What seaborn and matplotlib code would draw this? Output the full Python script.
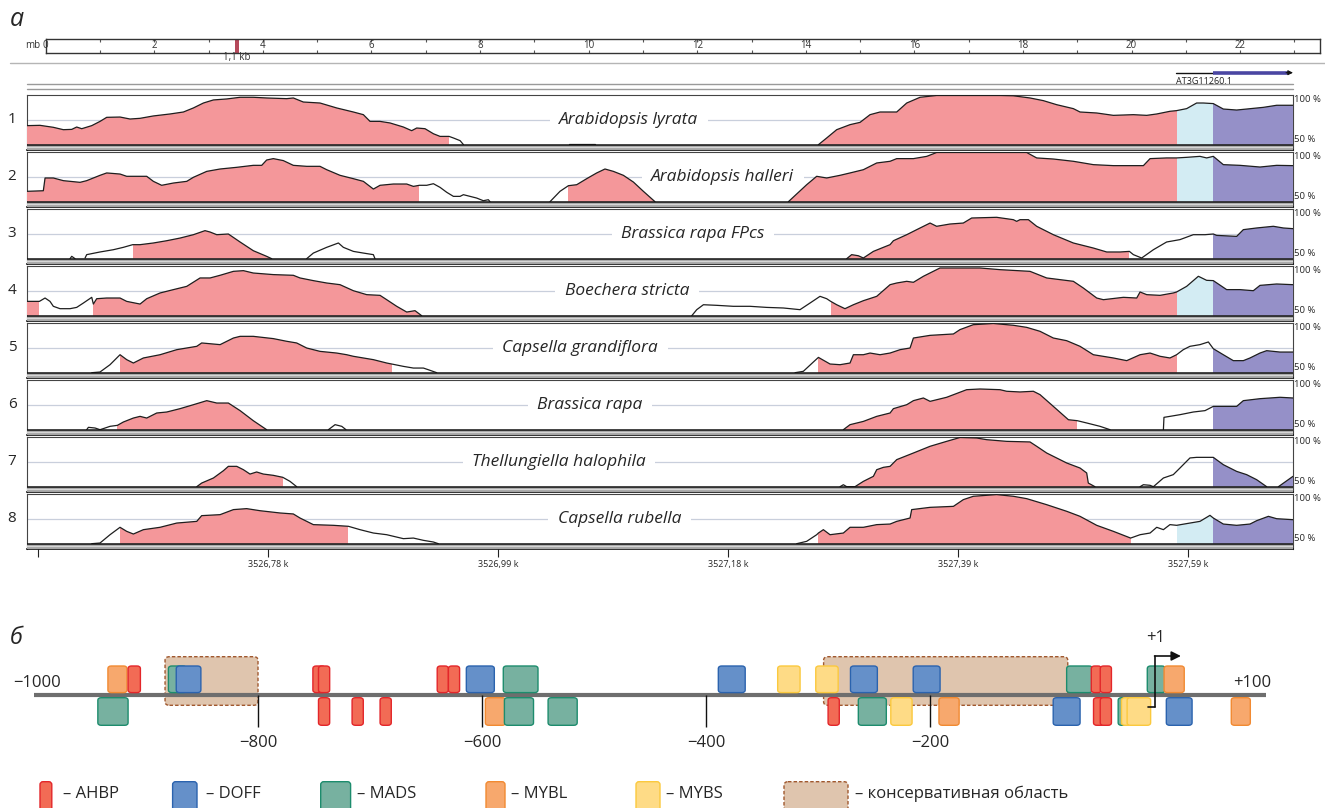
import numpy as np
import pandas as pd
import seaborn as sns
import matplotlib.pyplot as plt
from matplotlib.patches import Rectangle, FancyBboxPatch

nan = np.nan

# ---------------- panel a: conservation profiles (x = bp offset, y = % identity) ----------------
species = ["Arabidopsis lyrata", "Arabidopsis halleri", "Brassica rapa FPcs", "Boechera stricta",
           "Capsella grandiflora", "Brassica rapa", "Thellungiella halophila", "Capsella rubella"]

t1_x = [-9.6, 1.7, 13.3, 22.0, 29.3, 33.6, 38.0, 46.7, 53.9, 59.7, 71.3, 80.0, 88.7, 100.3, 114.8, 126.4,
        135.1, 143.8, 152.5, 164.1, 175.7, 187.2, 198.8, 216.2, 222.0, 230.7, 245.2, 259.7, 274.2, 282.9,
        288.7, 297.4, 306.1, 317.7, 324.9, 329.3, 336.5, 343.8, 349.6, 357.4, 361.2, 367.0, 370.0, nan,
        462.0, 484.0, nan, 678.6, 685.8, 694.5, 706.1, 714.8, 723.5, 732.2, 746.7, 755.4, 767.0, 781.4,
        836.5, 848.1, 862.6, 874.2, 885.8, 900.3, 906.1, 920.6, 935.1, 952.5, 964.1, 972.8, 984.3, 990.1,
        998.8, 1007.5, 1013.3, 1022.0, 1030.7, 1042.3, 1051.0, 1065.5, 1077.1, 1091.3]
t1_y = [69.3, 69.6, 67.6, 65.2, 65.5, 67.9, 66.2, 69.3, 73.6, 77.7, 78.0, 76.0, 76.7, 79.1, 81.1, 83.1,
        87.2, 92.2, 95.3, 96.3, 98.0, 98.0, 97.3, 96.6, 97.3, 93.2, 92.2, 87.2, 83.1, 80.4,
        73.6, 73.6, 72.0, 67.9, 64.2, 66.9, 66.2, 61.1, 58.4, 58.4, 56.8, 54.1, 50, nan,
        50.6, 50.6, nan, 50, 56.8, 65.2, 70.3, 72.6, 80.4, 83.1, 83.1, 92.2, 98.0, 99.8,
        99.8, 99.5, 97.3, 94.6, 90.5, 86.5, 83.1, 82.1, 79.7, 80.4, 79.7, 81.1, 83.8, 84.5,
        86.5, 92.2, 92.2, 91.6, 86.1, 85.1, 86.1, 87.8, 89.9, 89.9]

t2_x = [-9.6, 4.6, 6.1, 13.3, 22.0, 36.5, 42.3, 53.9, 59.7, 71.3, 77.1, 94.5, 100.3, 107.5, 117.7, 129.3,
        135.1, 146.7, 158.3, 172.8, 187.2, 194.5, 198.8, 204.6, 213.3, 222.0, 233.6, 245.2, 251.0, 262.6,
        274.2, 282.9, 291.6, 297.4, 309.0, 320.6, 326.4, 331.6, 338.0, 343.8, 349.6, 355.4, 361.2, 367.0,
        369.9, 381.4, 387.2, 391.6, 393.0, nan, 445.2, 453.9, 461.2, 468.4, 477.1, 485.8, 493.0, 500.3,
        509.0, 517.7, 526.4, 536.5, nan, 652.5, 659.7, 668.4, 677.1, 685.8, 697.4, 706.1, 717.7, 729.3,
        740.9, 746.7, 761.2, 772.8, 781.4, 859.7, 868.4, 882.9, 900.3, 917.7, 935.1, 961.2, 967.0, 981.4,
        990.1, 998.8, 1010.4, 1016.2, 1022.0, 1030.7, 1045.2, 1062.6, 1077.1, 1091.3]
t2_y = [60.5, 61.1, 74.0, 74.0, 71.3, 69.6, 71.3, 76.7, 79.1, 78.0, 75.7, 75.7, 70.6, 66.6, 68.9, 70.6,
        74.7, 80.7, 83.1, 84.8, 86.8, 86.8, 92.2, 93.6, 91.6, 86.8, 85.8, 85.8, 82.4, 76.7,
        73.3, 70.6, 62.8, 66.6, 67.9, 67.9, 65.5, 66.6, 66.6, 68.2, 64.5, 59.5, 55.4, 55.4,
        57.1, 53.7, 51.0, 52.0, 50, nan, 50, 60.5, 66.2, 67.2, 73.3, 79.1, 83.1, 80.7,
        76.7, 69.9, 60.5, 50, nan, 50, 57.8, 67.2, 75.7, 74.0, 76.7, 79.1, 82.4, 89.2,
        90.9, 93.6, 93.6, 95.9, 99.8, 99.8, 94.3, 93.2, 90.9, 87.5, 86.5, 86.5, 93.6, 94.3,
        94.3, 94.9, 95.9, 94.3, 95.9, 87.5, 86.8, 85.1, 86.8, 86.5]

t3_x = [27.8, 29.3, 32.2, nan, 40.9, 42.3, 53.9, 65.5, 74.2, 82.3, 88.7, 100.3, 111.9, 123.5, 135.1, 145.2,
        149.6, 155.4, 165.5, 175.7, 187.2, 198.8, 203.2, nan, 233.6, 239.4, 251.0, 261.2, 265.5, 274.2,
        282.9, 291.6, 293.0, nan, 703.2, 707.5, 713.3, 717.7, 726.4, 735.1, 740.9, 743.8, 755.4, 764.1,
        775.7, 781.4, 793.0, 804.6, 811.9, 833.6, 848.1, 851.0, 853.9, 861.2, 868.4, 882.9, 900.3, 917.7,
        929.3, 940.9, 949.0, 952.5, 959.7, 969.9, 981.4, 993.0, 1004.6, 1014.8, 1022.0, 1024.9, 1042.3,
        1048.1, 1059.7, 1074.2, 1082.9, 1091.3]
t3_y = [50, 52.4, 50, nan, 50.7, 54.1, 56.8, 59.1, 61.5, 64.2, 64.2, 65.9, 68.2, 70.9, 74.3, 78.4,
        77.0, 74.3, 75.0, 66.9, 58.1, 52.4, 50, nan, 50, 55.7, 61.5, 65.9, 61.5, 57.4,
        55.7, 54.1, 50, nan, 50, 54.1, 53.0, 50.7, 57.4, 61.5, 64.2, 68.2, 74.3, 79.4,
        86.1, 82.8, 85.1, 86.1, 91.2, 91.9, 89.5, 87.8, 89.5, 89.5, 82.8, 74.3, 65.9, 60.8,
        56.8, 56.8, 57.4, 54.1, 50.7, 59.1, 66.9, 69.3, 74.3, 74.3, 75.0, 73.6, 72.6,
        79.4, 81.1, 82.8, 81.1, 80.4]

t4_x = [-9.6, 1.2, 6.1, 10.4, 13.3, 19.1, 27.8, 33.6, 39.4, 46.7, 48.1, 51.0, 59.7, 71.3, 77.1, 88.7,
        94.5, 106.1, 117.7, 129.3, 140.9, 149.6, 158.3, 169.9, 178.6, 187.2, 204.6, 222.0, 227.8, 239.4,
        251.0, 262.6, 274.2, 285.8, 297.4, 303.2, 311.9, 320.6, 327.8, 333.6, nan, 568.5, 572.8, 578.6,
        590.1, 604.6, 619.1, 633.6, 648.1, 662.6, 671.3, 680.0, 685.8, 689.3, 694.5, 701.7, 709.0, 717.7,
        729.3, 740.9, 746.7, 755.4, 761.2, 769.9, 781.4, 784.3, 819.1, 836.5, 862.6, 877.1, 900.3, 909.0,
        920.6, 926.4, 943.8, 955.4, 958.3, 964.1, 975.7, 987.2, 990.1, 998.8, 1009.0, 1016.2, 1022.0,
        1033.6, 1045.2, 1056.8, 1062.6, 1077.1, 1091.3]
t4_y = [64.5, 64.5, 67.9, 64.5, 59.5, 57.1, 57.1, 58.4, 62.8, 68.6, 61.8, 67.2, 67.9, 67.9, 64.5, 61.8,
        67.2, 73.0, 76.4, 79.7, 88.2, 88.2, 90.9, 94.9, 95.6, 93.2, 91.6, 90.9, 88.2, 85.5,
        83.1, 81.4, 75.3, 71.3, 70.6, 66.2, 59.5, 53.7, 55.1, 50, nan, 50, 56.1, 61.1,
        60.5, 59.5, 59.5, 58.4, 57.8, 56.1, 62.8, 69.6, 67.2, 64.5, 61.1, 57.1, 61.1, 65.2,
        69.6, 81.4, 83.1, 84.8, 83.8, 89.9, 96.6, 98.3, 98.3, 96.6, 94.9, 88.2, 84.8, 78.0,
        67.9, 66.2, 68.6, 67.9, 74.0, 71.3, 70.6, 73.0, 74.0, 79.7, 89.9, 85.8, 85.5,
        76.4, 76.4, 75.3, 80.7, 82.1, 81.4]

t5_x = [46.7, 53.9, 62.6, 71.3, 77.1, 82.9, 91.6, 106.1, 120.6, 138.0, 142.3, 158.3, 169.9, 175.7, 187.2,
        204.6, 216.2, 224.9, 233.6, 245.2, 259.7, 268.4, 274.2, 291.6, 303.2, 307.5, 317.7, 326.4, 335.1,
        339.4, 346.7, nan, 658.3, 665.5, 674.2, 678.6, 688.7, 697.4, 706.1, 709.0, 717.7, 723.5, 732.2,
        740.9, 749.6, 758.3, 761.2, 775.7, 796.0, 801.7, 813.3, 830.7, 848.1, 859.7, 871.3, 882.9, 894.5,
        906.1, 917.7, 935.1, 946.7, 958.3, 967.0, 975.7, 984.3, 990.1, 995.9, 1001.7, 1010.4, 1017.7,
        1022.0, 1030.7, 1039.4, 1048.1, 1053.9, 1062.6, 1068.4, 1080.0, 1091.3]
t5_y = [50, 50.7, 58.1, 68.2, 63.2, 59.8, 64.9, 68.2, 73.3, 76.7, 80.1, 78.4, 85.1, 86.8, 86.8,
        84.5, 81.8, 80.1, 75.0, 71.6, 69.9, 68.2, 66.6, 63.2, 59.8, 58.8, 56.4, 54.7, 54.7,
        53.0, 50, nan, 50, 51.4, 60.8, 65.5, 58.8, 58.1, 59.8, 68.2, 68.2, 69.9, 68.2,
        69.9, 73.3, 75.0, 85.1, 87.8, 89.2, 93.6, 98.6, 99.8, 98.0, 95.9, 91.9, 85.1, 82.4,
        76.7, 68.2, 64.9, 62.2, 68.2, 69.9, 66.6, 64.9, 68.2, 73.3, 76.7, 78.4, 81.1,
        74.3, 68.2, 62.2, 62.2, 64.9, 69.9, 72.3, 70.9, 70.9]

t6_x = [42.3, 43.8, 49.6, 53.9, 58.3, 62.6, 69.0, 74.2, 82.9, 88.7, 94.5, 103.2, 111.9, 123.5, 135.1, 146.7,
        155.4, 165.5, 175.7, 187.2, 198.8, nan, 252.5, 258.3, 264.1, 267.8, nan, 700.3, 706.1, 717.7,
        729.3, 740.9, 743.8, 755.4, 761.2, 769.9, 775.7, 790.1, 807.5, 819.1, 836.5, 842.3, 853.9, 865.5,
        871.3, 882.9, 896.0, 903.8, 911.9, 923.5, 932.2, nan, 978.6, 979.1, 984.3, 993.0, 1004.6, 1014.8,
        1022.0, 1042.3, 1048.1, 1062.6, 1080.0, 1091.3]
t6_y = [50, 52.4, 51.7, 50, 51.7, 53.4, 54.4, 57.8, 61.8, 63.5, 61.8, 66.9, 67.9, 71.3, 75.3, 79.4,
        77.0, 77.0, 69.3, 59.1, 50, nan, 50, 55.1, 53.4, 50, nan, 50, 55.1, 58.4,
        63.5, 66.9, 71.3, 75.3, 79.4, 82.1, 78.7, 82.8, 90.5, 91.2, 90.5, 88.9, 88.2, 88.9,
        85.5, 73.6, 60.1, 59.1, 56.8, 53.4, 50, nan, 50, 62.5, 63.5, 65.2, 67.9, 69.3,
        73.6, 73.6, 79.4, 81.4, 82.8, 82.1]

t7_x = [138.0, 142.3, 152.5, 161.2, 165.5, 172.8, 178.6, 184.3, 190.1, 195.9, 204.6, 212.8, 219.1, 224.9,
        nan, 697.4, 700.3, 703.2, 710.4, 717.7, 726.4, 729.3, 735.1, 740.9, 746.7, 761.2, 775.7, 790.1,
        801.7, 816.2, 824.9, 842.3, 862.6, 868.4, 877.1, 894.5, 906.1, 911.9, 913.3, 919.1, nan, 958.3,
        961.2, 967.0, 969.9, 978.6, 987.2, 993.0, 1001.7, 1007.5, 1022.0, 1030.7, 1042.3, 1051.0, 1059.7,
        1068.4, nan, 1078.6, 1091.3]
t7_y = [50, 53.7, 58.8, 66.2, 70.6, 70.6, 67.2, 62.8, 64.9, 62.8, 61.5, 59.5, 55.4, 50,
        nan, 50, 52.0, 50, 50, 55.4, 60.5, 67.2, 69.6, 70.6, 77.4, 84.1, 90.9, 95.9,
        99.8, 99.3, 97.6, 95.9, 95.3, 90.9, 84.1, 74.0, 68.9, 63.9, 53.7, 50, nan, 50,
        52.0, 51.4, 50, 58.8, 62.2, 68.9, 79.1, 79.7, 79.7, 72.3, 65.5, 62.2, 57.1,
        50, nan, 50, 60.5]

t8_x = [46.7, 53.9, 62.6, 71.3, 77.1, 82.9, 91.6, 106.1, 120.6, 138.0, 142.3, 158.3, 169.9, 181.4, 193.0,
        210.4, 222.0, 227.8, 239.4, 256.8, 269.9, 280.0, 291.6, 303.2, 317.7, 326.4, 335.1, 343.8, 348.1,
        nan, 659.7, 668.4, 677.1, 678.6, 682.9, 688.7, 700.3, 706.1, 717.7, 729.3, 740.9, 746.7, 758.3,
        759.7, 775.7, 796.0, 804.6, 813.3, 833.6, 848.1, 859.7, 877.1, 894.5, 906.1, 920.6, 935.1, 950.1,
        958.3, 967.0, 972.8, 978.6, 984.3, 990.1, 1001.7, 1010.4, 1019.1, 1022.0, 1030.7, 1042.3, 1053.9,
        1059.7, 1069.9, 1077.1, 1091.3]
t8_y = [50, 50.7, 59.1, 66.6, 62.5, 59.8, 64.2, 66.6, 70.9, 72.6, 78.4, 79.4, 84.5, 85.5, 83.4,
        81.1, 80.1, 76.0, 69.3, 68.6, 67.6, 64.2, 60.8, 59.1, 55.1, 55.7, 53.4, 51.7, 50,
        nan, 50, 52.4, 59.1, 60.8, 64.2, 59.1, 60.8, 66.6, 66.6, 69.3, 69.9, 72.6, 76.0,
        84.5, 86.8, 87.8, 94.6, 98.0, 99.7, 98.0, 95.6, 89.5, 82.8, 77.7, 68.6, 62.5, 55.7,
        59.1, 60.8, 66.6, 64.2, 69.3, 68.6, 70.9, 72.6, 78.7, 76.0, 69.9, 68.6, 69.9,
        73.3, 77.7, 75.3, 74.3]

# conserved non-coding stretches (pink) per track
cns_regions = [
    [(-9.6, 357.4), (678.6, 990.1)],
    [(-9.6, 331.6), (461.2, 536.5), (652.5, 990.1)],
    [(82.3, 203.2), (703.2, 949.0)],
    [(-9.6, 1.2), (48.1, 333.6), (689.3, 990.1)],
    [(71.3, 307.5), (678.6, 990.1)],
    [(69.0, 198.8), (700.3, 903.8)],
    [(138.0, 212.8), (710.4, 919.1)],
    [(71.3, 269.9), (678.6, 950.1)],
]
utr_tracks = [1, 2, 4, 8]
utr_span = (990.1, 1022.0)
exon_span = (1022.0, 1091.3)
gene_name = "AT3G11260.1"

pos_ticks = [0, 200, 400, 600, 800, 1000]
pos_labels = ["", "3526,78 k", "3526,99 k", "3527,18 k", "3527,39 k", "3527,59 k"]
ruler_labels = list(range(0, 23, 2))
ruler_mark = 3.52

# ---------------- panel б: promoter map (-1000 .. +100) ----------------
ahbp_up = [(-916, -905), (-751, -740), (-746, -736), (-640, -630), (-630, -620), (-56, -47), (-48, -38)]
ahbp_dn = [(-746, -736), (-716, -706), (-691, -681), (-291, -281), (-54, -44), (-48, -38)]
doff_up = [(-873, -851), (-614, -589), (-389, -365), (-271, -247), (-215, -191)]
doff_dn = [(-90, -66), (11, 34)]
mads_up = [(-880, -864), (-581, -550), (-78, -55), (-6, 10)]
mads_dn = [(-943, -916), (-580, -554), (-541, -515), (-264, -239), (-32, -21)]
mybl_up = [(-934, -917), (9, 27)]
mybl_dn = [(-597, -579), (-192, -174), (69, 86)]
mybs_up = [(-336, -316), (-302, -282)]
mybs_dn = [(-235, -216), (-29, -9), (-24, -3)]
conserved = [(-883, -800), (-295, -77)]
prom_ticks = [-800, -600, -400, -200]
site_names = ["AHBP", "DOFF", "MADS", "MYBL", "MYBS"]

# ---------------- styling ----------------
sns.set_theme(style="white")
plt.rcParams['font.family'] = ['Open Sans', 'DejaVu Sans']

PINK, UTR, EXON = "#f4979a", "#d3ecf3", "#9590c8"
site_fc = {"AHBP": "#f26b55", "DOFF": "#6590c9", "MADS": "#77b1a0", "MYBL": "#f7a86d", "MYBS": "#fedb86"}
site_ec = {"AHBP": "#e3262a", "DOFF": "#2b63ae", "MADS": "#1d8c6d", "MYBL": "#f18a32", "MYBS": "#fbc93e"}
CONS_FC, CONS_EC = "#dfc5ae", "#a0582e"

W, H = 1325, 808
fig = plt.figure(figsize=(W / 100, H / 100), dpi=100)


def add_ax(x0, y0, x1, y1):
    return fig.add_axes([x0 / W, 1 - y1 / H, (x1 - x0) / W, (y1 - y0) / H])


XL = (-9.6, 1091.3)
label_x = [513.7, 595.5, 569.5, 512.2, 471.6, 480.0, 453.0, 505.8]
tracks = [(t1_x, t1_y), (t2_x, t2_y), (t3_x, t3_y), (t4_x, t4_y),
          (t5_x, t5_y), (t6_x, t6_y), (t7_x, t7_y), (t8_x, t8_y)]

for i, (tx, ty) in enumerate(tracks):
    top = 95.3 + 57 * i
    ax = add_ax(27, top, 1293, top + 55)
    ax.set_xlim(*XL)
    ax.set_ylim(44.33, 100)
    ax.axhline(75, color="#c9cfdc", lw=0.9, zorder=1)

    tx = np.array(tx, float)
    ty = np.array(ty, float)
    spans = [(a, b, PINK) for a, b in cns_regions[i]]
    if i + 1 in utr_tracks:
        spans.append((utr_span[0], utr_span[1], UTR))
    spans.append((exon_span[0], exon_span[1], EXON))
    for a, b, c in spans:
        poly = ax.fill_between(tx, 50, ty, color=c, lw=0, zorder=3)
        poly.set_clip_path(Rectangle((a, 0), b - a, 150, transform=ax.transData))

    df = pd.DataFrame({"x": tx, "y": ty})
    df["seg"] = df["y"].isna().cumsum()
    df = df.dropna()
    sns.lineplot(data=df, x="x", y="y", units="seg", estimator=None, sort=False,
                 color="#1e1e1e", lw=0.9, ax=ax, zorder=4, legend=False)

    # baseline bar
    ax.add_patch(Rectangle((XL[0], 44.33), XL[1] - XL[0], 5.67, fc="#a5a5a5", ec="none", zorder=5))
    ax.axhline(47.2, color="#d6d6d6", lw=0.9, zorder=5)
    ax.axhline(50, color="#111111", lw=1.1, zorder=6)

    ax.text(label_x[i], 75, species[i], style="italic", fontsize=12.5, ha="center", va="center",
            bbox=dict(boxstyle="square,pad=0.55", fc="white", ec="none"), zorder=2)
    ax.text(-22.6, 75, str(i + 1), fontsize=11, ha="center", va="center", clip_on=False)
    ax.text(XL[1] + 1, 95.6, "100 %", fontsize=6.8, ha="left", va="center", clip_on=False)
    ax.text(XL[1] + 1, 55.0, "50 %", fontsize=6.8, ha="left", va="center", clip_on=False)

    ax.set(xlabel="", ylabel="")
    ax.set_yticks([])
    for s in ax.spines.values():
        s.set_color("#444444")
        s.set_linewidth(0.8)
    ax.spines["bottom"].set_color("#111111")
    ax.spines["bottom"].set_linewidth(1.2)
    if i == len(tracks) - 1:
        ax.set_xticks(pos_ticks, pos_labels)
        ax.tick_params(axis="x", bottom=True, direction="out", length=6, width=0.8,
                       labelsize=6.5, pad=2, color="#222222")
    else:
        ax.set_xticks([])

# header: separators and gene model, same bp scale as the tracks
hd = add_ax(0, 30, W, 92)
hd.set_xlim(-33.04, 1119.13)
hd.set_ylim(92, 30)
hd.axis("off")
hd.plot([-24.3, 1119.13], [63.3, 63.3], color="#b5b5b5", lw=1.0)
hd.plot([XL[0], XL[1]], [84.3, 84.3], color="#9a9a9a", lw=1.0)
hd.plot([XL[0], XL[1]], [89.3, 89.3], color="#9a9a9a", lw=1.0)
hd.plot([utr_span[0] - 0.5, utr_span[1]], [72.7, 72.7], color="#111111", lw=1.0)
hd.plot([exon_span[0], exon_span[1] - 4], [72.7, 72.7], color="#4a46a2", lw=2.6, solid_capstyle="butt")
hd.annotate("", xy=(exon_span[1], 72.7), xytext=(exon_span[1] - 6, 72.7),
            arrowprops=dict(arrowstyle="-|>", color="#111111", lw=0.8, mutation_scale=7,
                            shrinkA=0, shrinkB=0))
hd.text(utr_span[0] - 0.5, 76.5, gene_name, fontsize=6.5, ha="left", va="top", color="#222222")

# ruler
ru = add_ax(45.7, 39, 1320, 53.3)
ru.set_xlim(0, 23.47)
ru.set_ylim(0, 1)
ru.set_xticks([])
ru.set_yticks([])
for s in ru.spines.values():
    s.set_color("#333333")
    s.set_linewidth(1.0)
ticks_r = np.arange(1, 24)
ru.vlines(ticks_r, 0.78, 1, color="#555555", lw=0.8)
ru.vlines(ticks_r, 0, 0.22, color="#555555", lw=0.8)
for v in ruler_labels:
    ru.text(v, 0.52, str(v), fontsize=7, ha="center", va="center", color="#333333")
ru.text(-0.1, 0.55, "mb", fontsize=7, ha="right", va="center", clip_on=False, color="#333333")
ru.add_patch(Rectangle((ruler_mark - 0.034, 0), 0.068, 1, fc="#b5495b", ec="none"))
ru.text(ruler_mark, -0.28, "1,1 kb", fontsize=7, ha="center", va="center", clip_on=False, color="#333333")

# ---------------- panel б ----------------
pr = add_ax(0, 620, W, 808)
pr.set_xlim(-1030.36, 152.68)
pr.set_ylim(-113, 75)
pr.axis("off")
XA = 1 / 1.12

for a, b in conserved:
    pr.add_patch(FancyBboxPatch((a, -10.3), b - a, 48.6, boxstyle="round,pad=0,rounding_size=4",
                                mutation_aspect=XA, fc=CONS_FC, ec=CONS_EC, ls=(0, (2.5, 1.5)),
                                lw=1.0, zorder=1))
pr.plot([-1000, 100], [0, 0], color="#6e6e6e", lw=3, solid_capstyle="butt", zorder=2)
pr.vlines(prom_ticks, -32, 0, color="#111111", lw=1.0, zorder=2)
for t in prom_ticks:
    pr.text(t, -48.3, f"\u2212{abs(t)}", fontsize=12, ha="center", va="center")
pr.text(-997.5, 11.7, "\u22121000", fontsize=12, ha="center", va="center")
pr.text(87.5, 11.7, "+100", fontsize=12, ha="center", va="center")

site_lists = {"AHBP": (ahbp_up, ahbp_dn), "DOFF": (doff_up, doff_dn), "MADS": (mads_up, mads_dn),
              "MYBL": (mybl_up, mybl_dn), "MYBS": (mybs_up, mybs_dn)}
sites = []
for name, (up, dn) in site_lists.items():
    sites += [(a, b, name, 1) for a, b in up]
    sites += [(a, b, name, -1) for a, b in dn]
sites.sort(key=lambda s: s[0])
for k, (a, b, name, side) in enumerate(sites):
    y0 = 2.4 if side > 0 else -30.3
    h = 26.6 if side > 0 else 27.6
    pr.add_patch(FancyBboxPatch((a, y0), b - a, h, boxstyle="round,pad=0,rounding_size=3",
                                mutation_aspect=XA, fc=site_fc[name], ec=site_ec[name], lw=1.0,
                                zorder=3 + k * 0.01))

tss = 1
pr.plot([tss, tss], [-12, 39], color="#111111", lw=1.2, zorder=6)
pr.plot([tss - 6, tss], [-12, -12], color="#111111", lw=1.2, zorder=6)
pr.annotate("", xy=(24, 39), xytext=(tss - 0.5, 39),
            arrowprops=dict(arrowstyle="-|>", color="#111111", lw=1.2, mutation_scale=14,
                            shrinkA=0, shrinkB=0), zorder=6)
pr.text(tss, 57, "+1", fontsize=12, ha="center", va="center")

# legend row
lg = add_ax(0, 770, W, 808)
lg.set_xlim(0, W)
lg.set_ylim(808, 770)
lg.axis("off")
legend_boxes = [(40, 51.8), (172.6, 197), (320.7, 350.6), (486, 505), (636, 660)]
legend_text_x = [63, 206, 357, 511, 666]
for name, (x0, x1), txp in zip(site_names, legend_boxes, legend_text_x):
    lg.add_patch(FancyBboxPatch((x0, 781.7), x1 - x0, 30, boxstyle="round,pad=0,rounding_size=3",
                                fc=site_fc[name], ec=site_ec[name], lw=1.0))
    lg.text(txp, 794, f"\u2013 {name}", fontsize=12, ha="left", va="center")
lg.add_patch(FancyBboxPatch((784, 781.7), 64, 30, boxstyle="round,pad=0,rounding_size=4",
                            fc=CONS_FC, ec=CONS_EC, ls=(0, (2.5, 1.5)), lw=1.0))
lg.text(855, 794, "\u2013 консервативная область", fontsize=12, ha="left", va="center")

fig.text(16.5 / W, 1 - 19 / H, "а", style="italic", fontsize=18, ha="center", va="center")
fig.text(16 / W, 1 - 638 / H, "б", style="italic", fontsize=17, ha="center", va="center")

fig.savefig("out.png", dpi=100)
